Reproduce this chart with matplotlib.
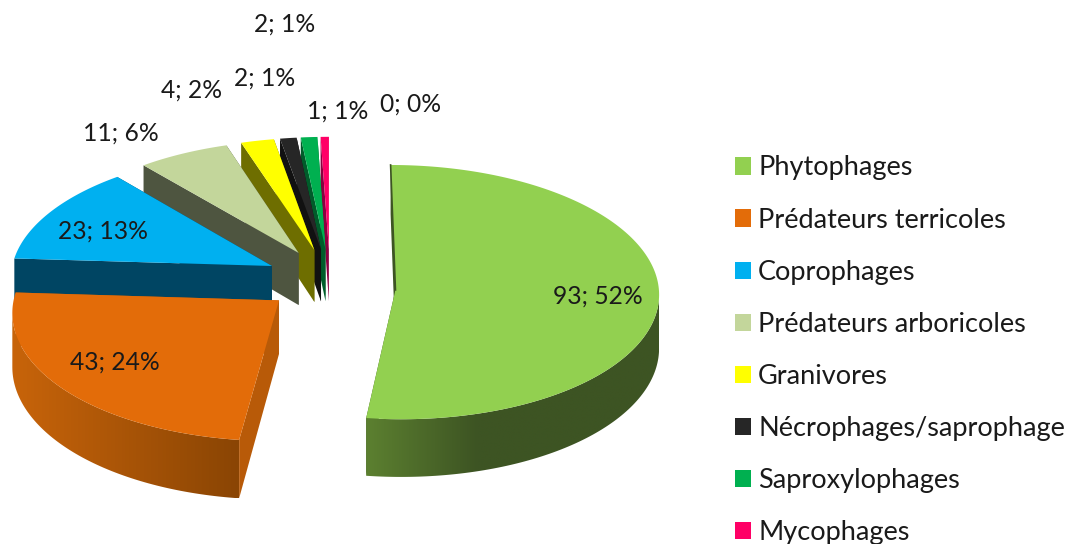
import numpy as np
import matplotlib
matplotlib.use("Agg")
import matplotlib.pyplot as plt
from matplotlib.colors import to_rgb
from matplotlib.patches import Patch, Polygon

plt.rcParams['font.family'] = ['Lato', 'DejaVu Sans']

categories = ["Phytophages", "Prédateurs terricoles", "Coprophages", "Prédateurs arboricoles",
              "Granivores", "Nécrophages/saprophage", "Saproxylophages", "Mycophages", "Autres"]
values = [93, 43, 23, 11, 4, 2, 2, 1, 0]
top_colors = ["#92D050", "#E36C09", "#00B0F0", "#C3D69B", "#FFFF00", "#262626", "#00B050", "#FF0066", "#7F7F7F"]
# couleur du flanc à gauche et à droite, et fraction de la largeur où le dégradé s'arrête
side_left = ["#5C8030", "#C8640A", "#004563", "#4E5540", "#6E6E00", "#111111", "#005C2A", "#8A0040", "#7F7F7F"]
side_right = ["#3D5423", "#8A4504", "#004563", "#4E5540", "#6E6E00", "#111111", "#005C2A", "#8A0040", "#7F7F7F"]
side_stop = [0.38, 1, 1, 1, 1, 1, 1, 1, 1]
cut_colors = ["#3D5423", "#B85A08", "#004563", "#4E5540", "#6E6E00", "#111111", "#005C2A", "#8A0040", "#7F7F7F"]

# position des étiquettes (en pixels)
label_pos = [(598, 296), (115, 362), (103, 231), (121, 133), (192, 90), (265, 78), (285, 24), (338, 111), (411, 104)]

# géométrie du camembert 3D
CX, CY = 330, 280
A, B = 262, 126
PERSP = 0.08
EXPLODE = 0.25
DEPTH = 53


def project(X, Y):
    w = 1 / (1 + PERSP * Y)
    return CX + A * X * w, CY - B * Y * w, w


def draw_rim(ax, t, x, y, w, i, z):
    # seulement la partie tournée vers nous, entre les extrémités gauche et droite
    start = np.argmax(x) if t[0] < np.pi / 2 else 0
    end = np.argmin(x) + 1 if t[-1] > 3 * np.pi / 2 else len(t)
    if end - start < 2:
        return
    x, y, w = x[start:end], y[start:end], w[start:end]
    pts = np.c_[np.r_[x, x[::-1]], np.r_[y, (y + DEPTH * w)[::-1]]]
    u = np.linspace(0, 1, 256)
    f = np.clip(u / side_stop[i], 0, 1)[:, None]
    c0, c1 = np.array(to_rgb(side_left[i])), np.array(to_rgb(side_right[i]))
    im = ax.imshow((c0 + (c1 - c0) * f)[None, :, :],
                   extent=[pts[:, 0].min(), pts[:, 0].max(), pts[:, 1].max(), pts[:, 1].min()],
                   aspect="auto", zorder=z, interpolation="bilinear")
    im.set_clip_path(Polygon(pts, transform=ax.transData))


def draw_slice(ax, t1, t2, i, z):
    mid = (t1 + t2) / 2
    ox, oy = EXPLODE * np.sin(mid), EXPLODE * np.cos(mid)
    t = np.linspace(t1, t2, max(int(np.degrees(t2 - t1)), 4) + 1)
    xr, yr, wr = project(ox + np.sin(t), oy + np.cos(t))
    xa, ya, wa = project(ox, oy)
    if i == 0:
        ya += 8  # la pointe du vert est un peu plus basse sur l'original

    # face de coupe arrière
    ax.fill([xa, xr[-1], xr[-1], xa], [ya, yr[-1], yr[-1] + DEPTH * wr[-1], ya + DEPTH * wa],
            color=cut_colors[i], lw=0, zorder=z)

    # flanc extérieur
    draw_rim(ax, t, xr, yr, wr, i, z + 1)

    # face de coupe avant
    ax.fill([xa, xr[0], xr[0], xa], [ya, yr[0], yr[0] + DEPTH * wr[0], ya + DEPTH * wa],
            color=cut_colors[i], lw=0, zorder=z + 2)

    # dessus
    ax.fill(np.r_[xa, xr], np.r_[ya, yr], color=top_colors[i], lw=0, zorder=z + 3)
    if i == 0:
        ax.plot([xr[0], xa], [yr[0], ya], color="#3D5423", lw=1.2, zorder=z + 4)


fig = plt.figure(figsize=(10.72, 5.44), dpi=100)
ax = fig.add_axes([0, 0, 1, 1])

total = sum(values)
edges = np.r_[0, np.cumsum(values)] / total * 2 * np.pi
z = 1
for i in range(len(values) - 1, 0, -1):
    if values[i] > 0:
        draw_slice(ax, edges[i], edges[i + 1], i, z)
        z += 5
draw_slice(ax, edges[0], edges[1], 0, z)

ax.set_xlim(0, 1072)
ax.set_ylim(544, 0)
ax.axis("off")

for v, (x, y) in zip(values, label_pos):
    ax.text(x, y, f"{v}; {round(v / total * 100)}%", ha="center", va="center", fontsize=17.7, color="#1a1a1a", zorder=100)

handles = [Patch(facecolor=c, label=n) for c, n in zip(top_colors[:8], categories[:8])]
leg = ax.legend(handles=handles, loc="upper left", bbox_to_anchor=(735 / 1072, 1 - 155.5 / 544), frameon=False,
                fontsize=19.5, handlelength=0.6, handleheight=0.6, handletextpad=0.25,
                labelspacing=1.0, borderpad=0, borderaxespad=0, labelcolor="#1a1a1a")
leg.set_zorder(100)

plt.savefig("out.png", dpi=100)
